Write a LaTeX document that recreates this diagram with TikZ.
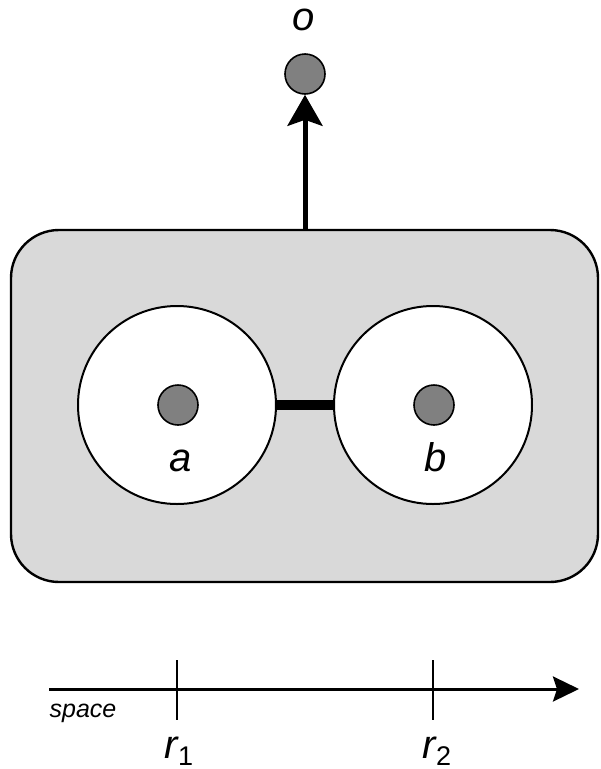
\documentclass[tikz,border=0pt]{standalone}
\usepackage{fontspec}
\setmainfont{Liberation Sans}
\usetikzlibrary{arrows.meta}
\definecolor{boxgray}{RGB}{217,217,217}
\definecolor{dotgray}{RGB}{128,128,128}
\newcommand{\sublab}[1]{\raisebox{-7pt}{\fontsize{27}{27}\selectfont\upshape #1}}
\begin{document}
\begin{tikzpicture}[x=1pt,y=-1pt,
  dot/.style={circle,draw=black,line width=1.6pt,fill=dotgray,inner sep=0pt,minimum size=40pt},
  cell/.style={circle,draw=black,line width=2pt,fill=white,minimum size=198pt,inner sep=0pt},
  lab/.style={font=\fontsize{40}{40}\selectfont\itshape,inner sep=0pt,anchor=base},
  tick/.style={line width=2.6pt}]
\useasboundingbox (0,0) rectangle (601,769);
\node[draw=black,line width=2.4pt,fill=boxgray,rounded corners=48pt,minimum width=587pt,minimum height=352pt,inner sep=0pt] (box) at (304.5,406) {};
\node[cell] (ca) at (177,405) {};
\node[cell] (cb) at (433,405) {};
\draw[line width=10pt] (ca.east) -- (cb.west);
\node[dot] (a) at (178,405) {};
\node[dot] (b) at (434,405) {};
\node[lab] (la) at (181,471) {a};
\node[lab] (lb) at (436,471) {b};
\node[dot] (o) at (305,74) {};
\node[lab] (lo) at (304,30) {o};
\coordinate (ostart) at (box.north -| o);
\draw[line width=5pt,-{Stealth[width=35pt,length=31pt,inset=6pt]}] (ostart) -- (o.south);
\coordinate (ax0) at (49,689);
\coordinate (ax1) at (579,689);
\draw[line width=3pt,-{Stealth[width=25pt,length=26pt,inset=4pt]}] (ax0) -- (ax1);
\coordinate (t1a) at (177,660); \coordinate (t1b) at (177,720);
\coordinate (t2a) at (433,660); \coordinate (t2b) at (433,720);
\draw[tick] (t1a) -- (t1b);
\draw[tick] (t2a) -- (t2b);
\node[font=\fontsize{25}{25}\selectfont\itshape,inner sep=0pt,anchor=base] (sp) at (83,717) {space};
\node[lab] (r1) at (179,758) {r\sublab{1}};
\node[lab] (r2) at (437,758) {r\sublab{2}};
\end{tikzpicture}
\end{document}
